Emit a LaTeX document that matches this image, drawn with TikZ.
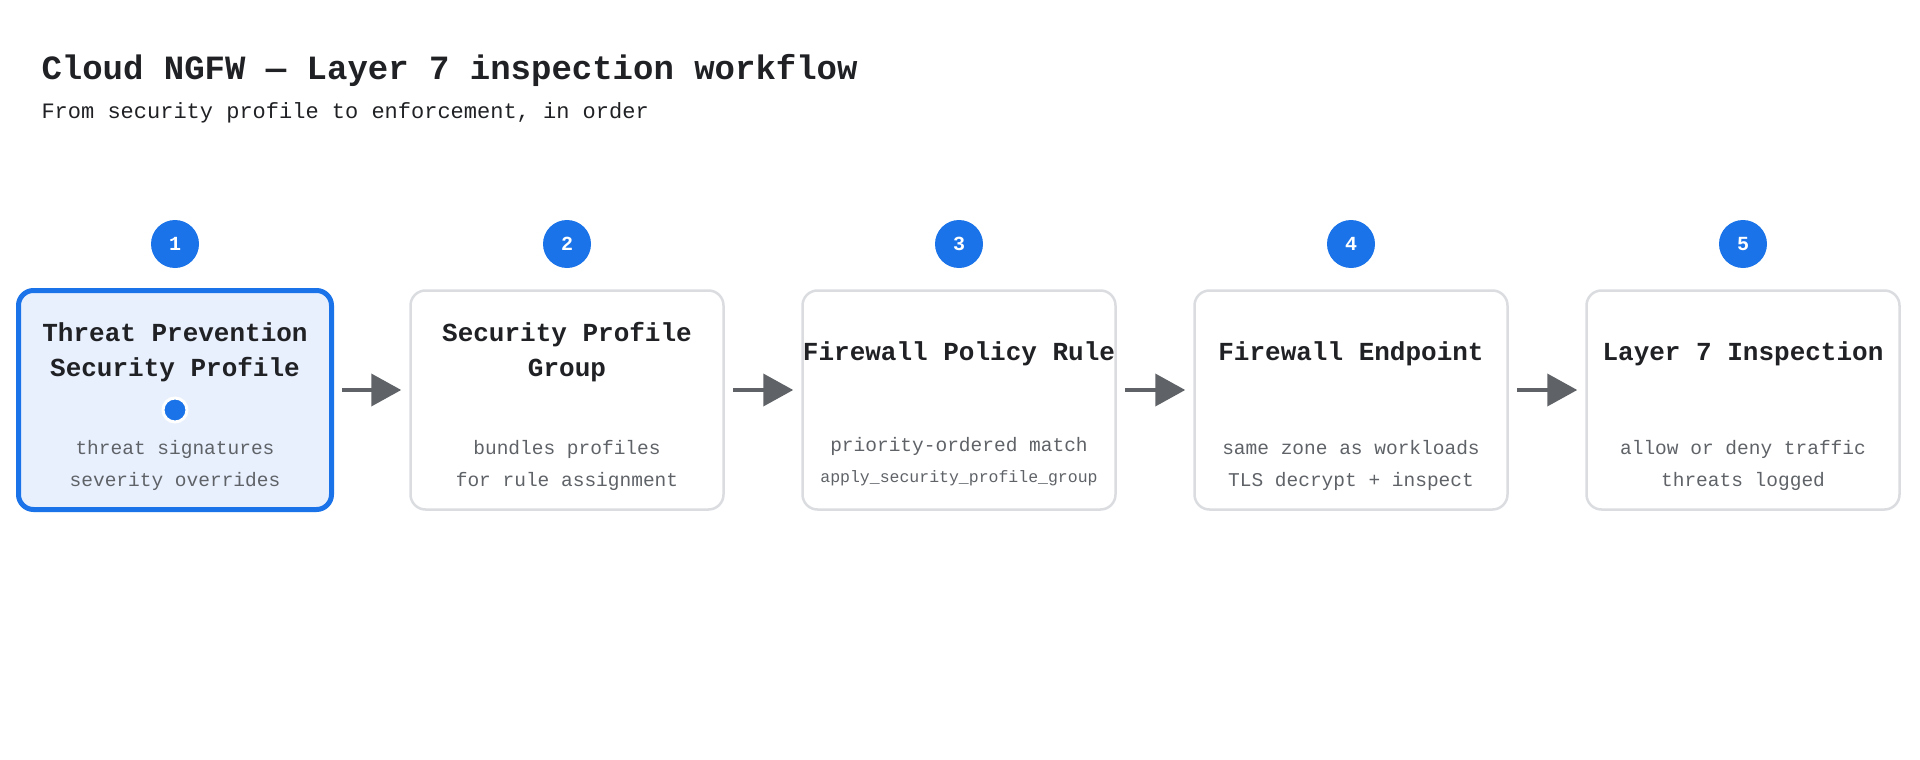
\documentclass[tikz,border=0pt]{standalone}
\usepackage{fontspec}
\setmainfont{Liberation Mono}
\usetikzlibrary{arrows.meta, positioning}
\definecolor{gblue}{HTML}{1A73E8}
\definecolor{gtint}{HTML}{E8F0FE}
\definecolor{gline}{HTML}{DADCE0}
\definecolor{ggray}{HTML}{5F6368}
\definecolor{gink}{HTML}{202124}
\tikzset{
  stage/.style={draw=gline, line width=2.5pt, rounded corners=15pt, fill=white,
    minimum width=313pt, minimum height=219pt},
  active/.style={stage, draw=gblue, line width=5pt, fill=gtint},
  badge/.style={circle, fill=gblue, minimum size=48pt, inner sep=0pt,
    text=white, font=\fontsize{20}{24}\selectfont\bfseries},
  head/.style={align=center, text=gink, font=\fontsize{26}{35}\selectfont\bfseries},
  desc/.style={align=center, text=ggray, font=\fontsize{19.5}{32}\selectfont},
  flow/.style={draw=ggray, line width=4pt, -{Triangle[length=30pt, width=32pt]}}
}
\begin{document}
\begin{tikzpicture}[x=1pt, y=-1pt]
    \useasboundingbox (0,0) rectangle (1920,760);
    % Title
    \node[anchor=west, text=gink, font=\fontsize{34}{40}\selectfont\bfseries] (title) at (38,70) {Cloud NGFW — Layer 7 inspection workflow};
    \node[anchor=west, text=gink, font=\fontsize{22}{26}\selectfont] (sub) at (38,113) {From security profile to enforcement, in order};

    % Stages
    \node[active] (s1) at (175,400) {};
    \node[stage] (s2) at (567,400) {};
    \node[stage] (s3) at (959,400) {};
    \node[stage] (s4) at (1351,400) {};
    \node[stage] (s5) at (1743,400) {};

    % Badges
    \foreach \i/\x in {1/175, 2/567, 3/959, 4/1351, 5/1743}
        \node[badge] (b\i) at (\x,244) {\i};

    % Stage 1
    \node[head] (h1) at (175,352) {Threat Prevention\\Security Profile};
    \node[circle, fill=gblue, draw=white, line width=3pt, minimum size=24pt, inner sep=0pt] (dot) at (175,410) {};
    \node[desc] (d1) at (175,465) {threat signatures\\severity overrides};
    % Stage 2
    \node[head] (h2) at (567,352) {Security Profile\\Group};
    \node[desc] (d2) at (567,465) {bundles profiles\\for rule assignment};
    % Stage 3
    \node[head] (h3) at (959,354) {Firewall Policy Rule};
    \node[desc] (d3) at (959,446) {priority-ordered match};
    \node[text=ggray, font=\fontsize{16.5}{20}\selectfont] (c3) at (959,478) {apply\_security\_profile\_group};
    % Stage 4
    \node[head] (h4) at (1351,354) {Firewall Endpoint};
    \node[desc] (d4) at (1351,465) {same zone as workloads\\TLS decrypt + inspect};
    % Stage 5
    \node[head] (h5) at (1743,354) {Layer 7 Inspection};
    \node[desc] (d5) at (1743,465) {allow or deny traffic\\threats logged};

    % Arrows
    \foreach \a/\b in {s1/s2, s2/s3, s3/s4, s4/s5}
        \draw[flow] ([xshift=8pt,yshift=10pt]\a.east) -- ([xshift=-8pt,yshift=10pt]\b.west);
\end{tikzpicture}
\end{document}
